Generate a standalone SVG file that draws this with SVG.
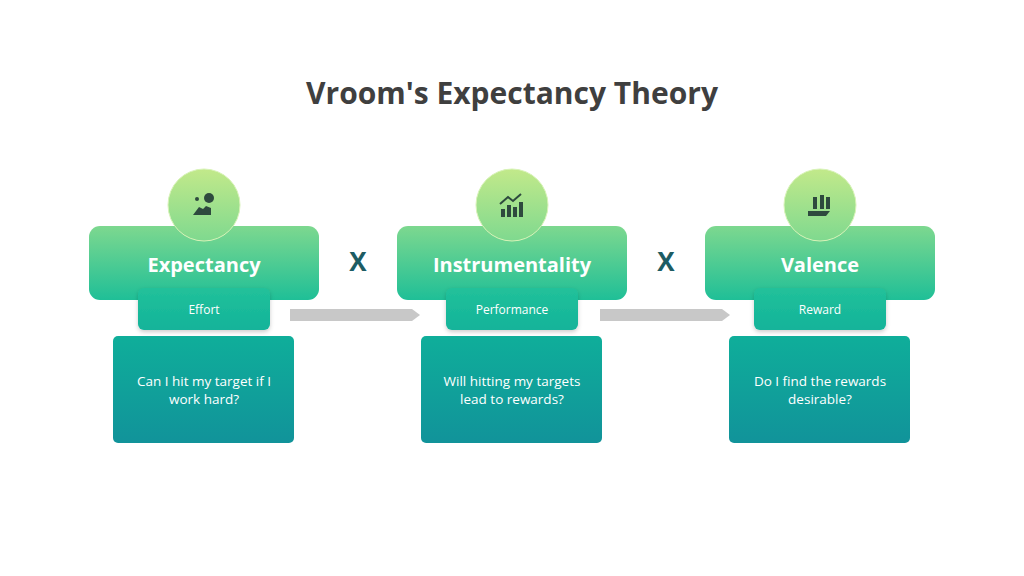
<svg xmlns="http://www.w3.org/2000/svg" width="1024" height="576" viewBox="0 0 1024 576">
<defs>
<linearGradient id="gTop" x1="0" y1="0" x2="0" y2="1"><stop offset="0" stop-color="#7dd88f"/><stop offset="1" stop-color="#1fbf97"/></linearGradient>
<linearGradient id="gCirc" x1="0" y1="0" x2="0" y2="1"><stop offset="0" stop-color="#c2e98a"/><stop offset="1" stop-color="#7fd98f"/></linearGradient>
<linearGradient id="gMid" x1="0" y1="0" x2="0" y2="1"><stop offset="0" stop-color="#22c19a"/><stop offset="1" stop-color="#12b39a"/></linearGradient>
<linearGradient id="gBot" x1="0" y1="0" x2="0" y2="1"><stop offset="0" stop-color="#0fae9a"/><stop offset="1" stop-color="#11939a"/></linearGradient>
<filter id="sh" x="-20%" y="-20%" width="140%" height="160%"><feDropShadow dx="0" dy="2" stdDeviation="2" flood-opacity="0.2"/></filter>
</defs>
<style>
text{font-family:"Open Sans","Liberation Sans",sans-serif;text-anchor:middle}
.t{font-size:30px;font-weight:700;fill:#3f3f3f}
.h{font-size:20px;font-weight:700;fill:#fff}
.s{font-size:12px;fill:#fff}
.b{font-size:13.5px;fill:#fff}
.x{font-size:26px;font-weight:700;fill:#1d5c63}
.ic{fill:#2e4a3e}
</style>
<text class="t" x="512" y="104">Vroom's Expectancy Theory</text>
<g id="connectors">
<polygon points="290,309 412,309 420,315 412,321 290,321" fill="#c8c8c8"/>
<polygon points="600,309 722,309 730,315 722,321 600,321" fill="#c8c8c8"/>
</g>
<text class="x" x="358" y="271">X</text>
<text class="x" x="666" y="271">X</text>
<g id="expectancy">
<rect x="89" y="226" width="230" height="74" rx="11" fill="url(#gTop)"/>
<circle cx="204" cy="205" r="36" fill="url(#gCirc)" stroke="#d8f3b8" stroke-width="1"/>
<g class="ic"><circle cx="197" cy="199" r="2"/><path d="M193 215 l6-8 4 2 3 -3 l5 2 v7z"/><circle cx="209" cy="198" r="5"/></g>
<text class="h" x="204" y="272">Expectancy</text>
<rect x="138" y="288" width="132" height="42" rx="6" fill="url(#gMid)" filter="url(#sh)"/>
<text class="s" x="204" y="314">Effort</text>
<rect x="113" y="336" width="181" height="107" rx="5" fill="url(#gBot)"/>
<text class="b" x="204" y="386">Can I hit my target if I</text>
<text class="b" x="204" y="404">work hard?</text>
</g>
<g id="instrumentality">
<rect x="397" y="226" width="230" height="74" rx="11" fill="url(#gTop)"/>
<circle cx="512" cy="205" r="36" fill="url(#gCirc)" stroke="#d8f3b8" stroke-width="1"/>
<g class="ic"><rect x="501" y="209" width="4" height="8"/><rect x="507" y="205" width="4" height="12"/><rect x="513" y="207" width="4" height="10"/><rect x="519" y="202" width="4" height="15"/><path d="M500 204 l8-7 5 4 8-7" stroke="#2e4a3e" stroke-width="2" fill="none"/></g>
<text class="h" x="512" y="272">Instrumentality</text>
<rect x="446" y="288" width="132" height="42" rx="6" fill="url(#gMid)" filter="url(#sh)"/>
<text class="s" x="512" y="314">Performance</text>
<rect x="421" y="336" width="181" height="107" rx="5" fill="url(#gBot)"/>
<text class="b" x="512" y="386">Will hitting my targets</text>
<text class="b" x="512" y="404">lead to rewards?</text>
</g>
<g id="valence">
<rect x="705" y="226" width="230" height="74" rx="11" fill="url(#gTop)"/>
<circle cx="820" cy="205" r="36" fill="url(#gCirc)" stroke="#d8f3b8" stroke-width="1"/>
<g class="ic"><rect x="813" y="197" width="4" height="12"/><rect x="820" y="195" width="4" height="14"/><rect x="826" y="197" width="4" height="12"/><path d="M808 211 h22 l-4 5 h-18z"/></g>
<text class="h" x="820" y="272">Valence</text>
<rect x="754" y="288" width="132" height="42" rx="6" fill="url(#gMid)" filter="url(#sh)"/>
<text class="s" x="820" y="314">Reward</text>
<rect x="729" y="336" width="181" height="107" rx="5" fill="url(#gBot)"/>
<text class="b" x="820" y="386">Do I find the rewards</text>
<text class="b" x="820" y="404">desirable?</text>
</g>
</svg>
